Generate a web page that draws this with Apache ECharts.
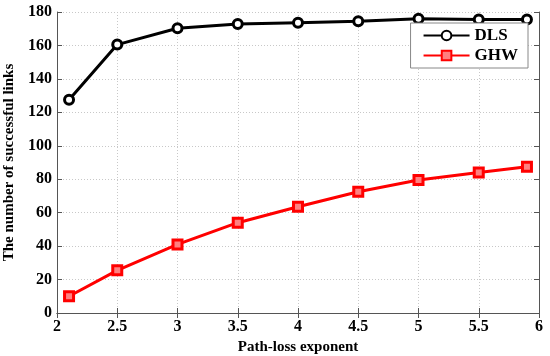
<!DOCTYPE html>
<html>
<head>
<meta charset="utf-8">
<script src="https://cdn.jsdelivr.net/npm/echarts@6/dist/echarts.min.js"></script>
<style>html,body{margin:0;padding:0;background:#fff}#c{width:550px;height:356px}</style>
</head>
<body>
<div id="c"></div>
<script>
const xValues = [2.1, 2.5, 3, 3.5, 4, 4.5, 5, 5.5, 5.9];
const dlsValues = [127.5, 160.5, 170.3, 172.8, 173.6, 174.4, 176, 175.5, 175.5];
const ghwValues = [10, 25.5, 41, 54, 63.5, 72.5, 79.5, 84, 87.5];
const seriesNames = ['DLS', 'GHW'];

const font = 'Liberation Serif';
const chart = echarts.init(document.getElementById('c'));
const gridLine = {show: true, lineStyle: {color: '#c8c8c8', type: [1, 2], width: 1}};
const axisLine = {show: true, lineStyle: {color: '#555', width: 1}};
const tick = {show: true, inside: true, length: 5, lineStyle: {color: '#555'}};
chart.setOption({
  animation: false,
  grid: {left: 57, right: 11, top: 12, bottom: 43, containLabel: false, outerBoundsMode: 'none'},
  legend: {
    data: seriesNames,
    orient: 'vertical',
    right: 22, top: 23,
    backgroundColor: '#fff',
    borderColor: '#888', borderWidth: 1,
    padding: [4, 10, 4, 12],
    itemGap: 3,
    itemWidth: 46, itemHeight: 12,
    textStyle: {fontFamily: font, fontWeight: 'bold', fontSize: 17, color: '#000'}
  },
  xAxis: [{
    type: 'value', min: 2, max: 6, interval: 0.5,
    name: 'Path-loss exponent', nameLocation: 'middle', nameGap: 24,
    nameTextStyle: {fontFamily: font, fontWeight: 'bold', fontSize: 15, color: '#000'},
    axisLine: axisLine, axisTick: tick, splitLine: gridLine,
    axisLabel: {fontFamily: font, fontWeight: 'bold', fontSize: 16, color: '#000', margin: 6}
  }, {
    type: 'value', min: 2, max: 6, interval: 0.5, position: 'top',
    axisLine: axisLine, axisTick: tick, axisLabel: {show: false}, splitLine: {show: false}
  }],
  yAxis: [{
    type: 'value', min: 0, max: 180, interval: 20,
    name: 'The number of successful links', nameLocation: 'middle', nameGap: 33,
    nameTextStyle: {fontFamily: font, fontWeight: 'bold', fontSize: 15, color: '#000'},
    axisLine: axisLine, axisTick: tick, splitLine: gridLine,
    axisLabel: {fontFamily: font, fontWeight: 'bold', fontSize: 16, color: '#000', margin: 5}
  }, {
    type: 'value', min: 0, max: 180, interval: 20, position: 'right',
    axisLine: axisLine, axisTick: tick, axisLabel: {show: false}, splitLine: {show: false}
  }],
  series: [{
    name: seriesNames[0], type: 'line',
    data: xValues.map((x, i) => [x, dlsValues[i]]),
    symbol: 'circle', symbolSize: 9, showAllSymbol: true,
    lineStyle: {color: '#000', width: 3},
    itemStyle: {color: '#fff', borderColor: '#000', borderWidth: 3}
  }, {
    name: seriesNames[1], type: 'line',
    data: xValues.map((x, i) => [x, ghwValues[i]]),
    symbol: 'rect', symbolSize: 9, showAllSymbol: true,
    lineStyle: {color: '#ff0000', width: 3},
    itemStyle: {color: '#ff8080', borderColor: '#ff0000', borderWidth: 3}
  }]
});
</script>
</body>
</html>
